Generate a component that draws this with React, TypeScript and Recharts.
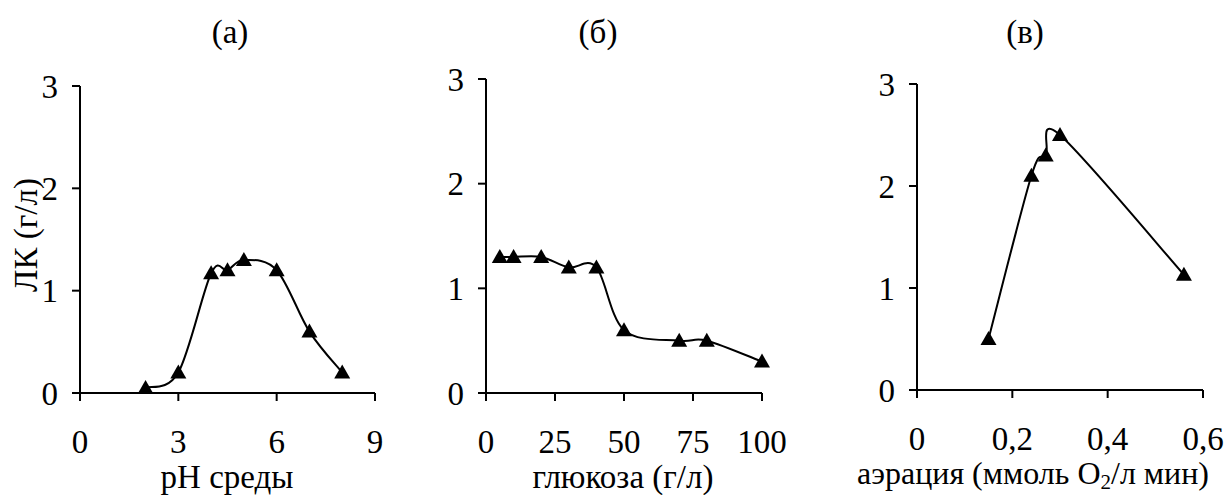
import React from "react";
import { LineChart, Line, XAxis, YAxis, Label } from "recharts";

// (а) pH
const phValues = [2, 3, 4, 4.5, 5, 6, 7, 8];
const phYield = [0.05, 0.2, 1.17, 1.2, 1.3, 1.2, 0.6, 0.2];
const phTicks = [0, 3, 6, 9];

// (б) glucose
const glucoseValues = [5, 10, 20, 30, 40, 50, 70, 80, 100];
const glucoseYield = [1.3, 1.3, 1.3, 1.2, 1.2, 0.6, 0.5, 0.5, 0.3];
const glucoseTicks = [0, 25, 50, 75, 100];

// (в) aeration
const aerationValues = [0.15, 0.24, 0.27, 0.3, 0.56];
const aerationYield = [0.5, 2.1, 2.3, 2.5, 1.13];
const aerationTicks = [0, 0.2, 0.4, 0.6];

const yTicks = [0, 1, 2, 3];
const panelTitles = ["(а)", "(б)", "(в)"];

const FONT = '"Liberation Serif", "Times New Roman", serif';
const FS = 33;
const textStyle = { fontFamily: FONT, fontSize: FS, fill: "#000" };

// excel-like smoothed line (catmull-rom through the points)
const excelSmooth = (context: any) => {
  let pts: number[][] = [];
  return {
    areaStart() {},
    areaEnd() {},
    lineStart() {
      pts = [];
    },
    point(x: number, y: number) {
      pts.push([+x, +y]);
    },
    lineEnd() {
      if (!pts.length) return;
      context.moveTo(pts[0][0], pts[0][1]);
      for (let i = 0; i < pts.length - 1; i++) {
        const p0 = pts[i - 1] || pts[i];
        const p1 = pts[i];
        const p2 = pts[i + 1];
        const p3 = pts[i + 2] || p2;
        context.bezierCurveTo(
          p1[0] + (p2[0] - p0[0]) / 6,
          p1[1] + (p2[1] - p0[1]) / 6,
          p2[0] - (p3[0] - p1[0]) / 6,
          p2[1] - (p3[1] - p1[1]) / 6,
          p2[0],
          p2[1]
        );
      }
    },
  };
};

const Triangle = (props: any) => {
  const { cx, cy } = props;
  if (cx == null || cy == null) return null;
  return (
    <path
      d={`M${cx},${cy - 8}L${cx + 8},${cy + 6}L${cx - 8},${cy + 6}Z`}
      fill="#000"
    />
  );
};

const XTick = ({ x, y, payload, fmt }: any) => (
  <text x={x} y={y} dy="0.71em" textAnchor="middle" style={textStyle}>
    {fmt ? fmt(payload.value) : payload.value}
  </text>
);

const YTick = ({ x, y, payload }: any) => (
  <text x={x} y={y} dy="0.35em" textAnchor="end" style={textStyle}>
    {payload.value}
  </text>
);

const axisStroke = { stroke: "#000", strokeWidth: 2 };

function Panel({
  left,
  width,
  margin,
  xs,
  ys,
  xTicks,
  xFormat,
  xAxisHeight,
  xLabel,
  yLabel,
}: any) {
  const data = xs.map((x: number, i: number) => ({ x, y: ys[i] }));
  return (
    <div style={{ position: "absolute", left, top: 0 }}>
      <LineChart width={width} height={495} data={data} margin={margin}>
        <XAxis
          type="number"
          dataKey="x"
          domain={[xTicks[0], xTicks[xTicks.length - 1]]}
          ticks={xTicks}
          interval={0}
          height={xAxisHeight}
          tickSize={8}
          tickMargin={29}
          tick={<XTick fmt={xFormat} />}
          axisLine={axisStroke}
          tickLine={axisStroke}
        >
          <Label content={xLabel} />
        </XAxis>
        <YAxis
          type="number"
          domain={[0, 3]}
          ticks={yTicks}
          interval={0}
          width={40}
          tickSize={8}
          tickMargin={14}
          tick={<YTick />}
          axisLine={axisStroke}
          tickLine={axisStroke}
        >
          {yLabel ? <Label content={yLabel} /> : null}
        </YAxis>
        <Line
          dataKey="y"
          type={excelSmooth as any}
          stroke="#000"
          strokeWidth={2}
          dot={<Triangle />}
          activeDot={false}
          isAnimationActive={false}
        />
      </LineChart>
    </div>
  );
}

export default function App() {
  return (
    <div
      style={{
        position: "absolute",
        left: 0,
        top: 0,
        width: 1225,
        height: 495,
        background: "#fff",
        overflow: "hidden",
        fontFamily: FONT,
      }}
    >
      <Panel
        left={0}
        width={400}
        margin={{ top: 86, right: 25, left: 40, bottom: 0 }}
        xs={phValues}
        ys={phYield}
        xTicks={phTicks}
        xAxisHeight={102}
        xLabel={() => (
          <text x={227} y={488} textAnchor="middle" style={textStyle}>
            pH среды
          </text>
        )}
        yLabel={() => (
          <text
            x={26}
            y={235}
            textAnchor="middle"
            dominantBaseline="central"
            transform="rotate(-90 26 235)"
            style={textStyle}
          >
            ЛК (г/л)
          </text>
        )}
      />
      <Panel
        left={400}
        width={400}
        margin={{ top: 79, right: 38, left: 46, bottom: 0 }}
        xs={glucoseValues}
        ys={glucoseYield}
        xTicks={glucoseTicks}
        xAxisHeight={102}
        xLabel={() => (
          <text x={223} y={488} textAnchor="middle" style={textStyle}>
            глюкоза (г/л)
          </text>
        )}
      />
      <Panel
        left={800}
        width={425}
        margin={{ top: 84, right: 22, left: 77, bottom: 0 }}
        xs={aerationValues}
        ys={aerationYield}
        xTicks={aerationTicks}
        xFormat={(v: number) => String(v).replace(".", ",")}
        xAxisHeight={105}
        xLabel={() => (
          <text x={233} y={484} textAnchor="middle" style={{ ...textStyle, fontSize: 32 }}>
            аэрация (ммоль O
            <tspan baselineShift="-25%" style={{ fontSize: 21 }}>2</tspan>
            /л мин)
          </text>
        )}
      />
      {panelTitles.map((t, i) => (
        <div
          key={t}
          style={{
            position: "absolute",
            left: [230, 598, 1025][i] - 60,
            top: 12,
            width: 120,
            textAlign: "center",
            fontFamily: FONT,
            fontSize: FS,
            lineHeight: "40px",
            color: "#000",
          }}
        >
          {t}
        </div>
      ))}
    </div>
  );
}
